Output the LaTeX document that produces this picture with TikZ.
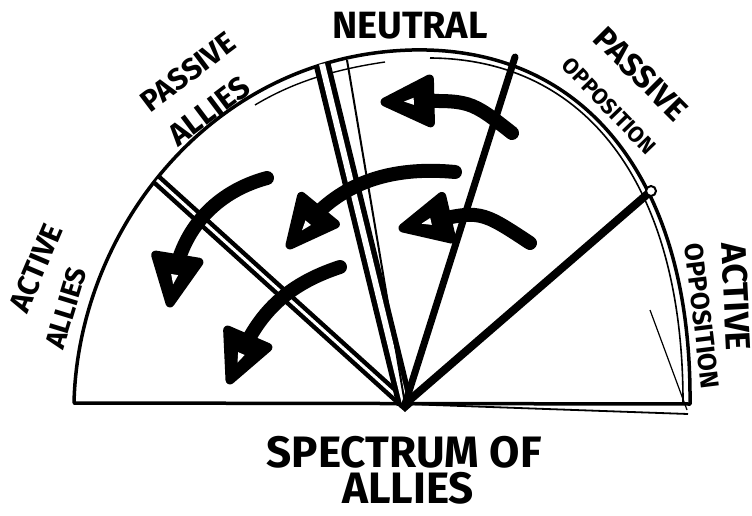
\documentclass[tikz,border=0pt]{standalone}
\usepackage{fontspec}
\setmainfont{Fira Sans}
\usetikzlibrary{arrows.meta,positioning,calc}

% marker-style arrow head: tip, then a point the head faces away from
\newcommand{\sweephead}[2]{%
  \filldraw[line width=9pt, line join=round]
    (#1) -- ($(#1)!50pt!26:(#2)$) -- ($(#1)!50pt!-26:(#2)$) -- cycle;
  \fill[white] ($(#1)!19pt!(#2)$) -- ($(#1)!29pt!7:(#2)$) -- ($(#1)!29pt!-7:(#2)$) -- cycle;}

\begin{document}
\begin{tikzpicture}[
    x=1pt, y=-1pt,
    rim/.style={line width=3.5pt, line cap=round},
    spoke/.style={line width=7pt, line cap=round},
    hollow/.style={line width=4.5pt, double=white, double distance=#1},
    sweep/.style={line width=14pt, line cap=round, shorten >=24pt},
    lbl/.style={font=\fontsize{#1}{#1}\selectfont\bfseries, inner sep=0pt, align=center}
  ]
  \useasboundingbox (0,0) rectangle (752,516);

  %% ---- key points ----
  \coordinate (apex)   at (405,404);
  \coordinate (base_l) at (74,403);
  \coordinate (base_r) at (690,404);
  \coordinate (top)    at (412,50);
  \coordinate (div_l)  at (157,180);
  \coordinate (neu_l)  at (322,64);
  \coordinate (neu_l2) at (347,60);
  \coordinate (neu_r)  at (515,57);
  \coordinate (div_r)  at (651,191);

  %% ---- half circle and base ----
  \draw[rim] (base_l) .. controls (78,230) and (212,55) .. (top)
             .. controls (585,46) and (692,180) .. (base_r);
  \draw[line width=1.6pt] (430,58) .. controls (590,59) and (683,190) .. (683,402);
  \draw[line width=1.4pt] (255,105) .. controls (290,84) and (330,70) .. (385,62);
  \draw[line width=3.5pt] (base_l) -- (base_r);
  \draw[line width=1.8pt] (apex) -- (688,414);
  \draw[line width=1.2pt] (650,310) -- (687,410);

  %% ---- segments ----
  \draw[hollow=3pt] (apex) -- (div_l);
  \draw[hollow=6pt, line width=5.5pt] (apex) -- (neu_l);
  \draw[line width=2pt] (apex) -- (neu_l2);
  \draw[spoke] (apex) -- (neu_r);
  \draw[spoke, line width=8pt] (apex) -- (div_r);
  \draw[line width=2pt, fill=white] (div_r) circle[radius=5pt];
  \fill (apex) ++(-9,0) -- ++(18,0) -- ++(-9,8) -- cycle;

  %% ---- sweeping arrows ----
  \coordinate (a1_tail) at (512,133);  \coordinate (a1_ctl) at (470,100);
  \coordinate (a1_tip)  at (385,102);
  \coordinate (a2_tail) at (530,243);  \coordinate (a2_ctl) at (480,210);
  \coordinate (a2_tip)  at (403,228);
  \coordinate (a3_tail) at (455,172);  \coordinate (a3_ctl) at (335,190);
  \coordinate (a3_tip)  at (290,245);
  \coordinate (a4_tail) at (267,178);  \coordinate (a4_ctl) at (182,230);
  \coordinate (a4_tip)  at (170,303);
  \coordinate (a5_tail) at (340,267);  \coordinate (a5_ctl) at (258,315);
  \coordinate (a5_tip)  at (230,380);

  \draw[sweep] (a1_tail) .. controls (a1_ctl) .. (a1_tip);
  \draw[sweep] (a2_tail) .. controls (a2_ctl) .. (a2_tip);
  \draw[sweep] (a3_tail) .. controls (380,165) and (a3_ctl) .. (a3_tip);
  \draw[sweep] (a4_tail) .. controls (215,192) and (a4_ctl) .. (a4_tip);
  \draw[sweep] (a5_tail) .. controls (285,285) and (a5_ctl) .. (a5_tip);

  \sweephead{a1_tip}{a1_ctl}
  \sweephead{a2_tip}{a2_ctl}
  \sweephead{a3_tip}{a3_ctl}
  \sweephead{a4_tip}{a4_ctl}
  \sweephead{a5_tip}{a5_ctl}

  %% ---- labels ----
  \node[lbl=38]               (lbl_neutral) at (410,26)  {NEUTRAL};
  \node[lbl=30, rotate=37]    (lbl_pa1)     at (188,72)  {PASSIVE};
  \node[lbl=31, rotate=37]    (lbl_pa2)     at (209,111) {ALLIES};
  \node[lbl=32, rotate=-45]   (lbl_po1)     at (641,74)  {PASSIVE};
  \node[lbl=22, rotate=-46]   (lbl_po2)     at (609,106) {OPPOSITION};
  \node[lbl=30, rotate=67]    (lbl_aa1)     at (36,268)  {ACTIVE};
  \node[lbl=28, rotate=73]    (lbl_aa2)     at (66,308)  {ALLIES};
  \node[lbl=35, rotate=-87]   (lbl_ao1)     at (736,297) {ACTIVE};
  \node[lbl=26, rotate=-83]   (lbl_ao2)     at (702,316) {OPPOSITION};
  \node[lbl=44]               (lbl_spec)    at (404,452) {SPECTRUM OF};
  \node[lbl=44]               (lbl_allies)  at (408,488) {ALLIES};

\end{tikzpicture}
\end{document}
